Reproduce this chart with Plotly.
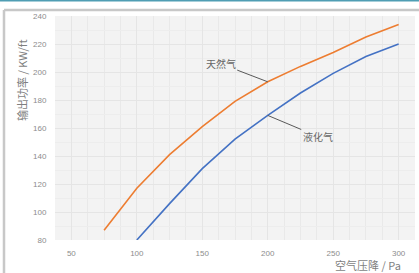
import plotly.graph_objects as go

# Data
pressure = [75, 100, 125, 150, 175, 200, 225, 250, 275, 300]
natural_gas = [87, 117, 141, 161, 179, 193, 204, 214, 225, 234]
pressure_lpg = [100, 125, 150, 175, 200, 225, 250, 275, 300]
lpg = [80, 106, 131, 152, 169, 185, 199, 211, 220]
x_ticks = [50, 100, 150, 200, 250, 300]
y_ticks = [80, 100, 120, 140, 160, 180, 200, 220, 240]

W, H = 419, 273
L, R, T, B = 55, 4, 16, 33

fig = go.Figure()
fig.add_trace(go.Scatter(x=pressure, y=natural_gas, mode="lines", name="天然气",
                         line=dict(color="#ED7D31", width=1.6)))
fig.add_trace(go.Scatter(x=pressure_lpg, y=lpg, mode="lines", name="液化气",
                         line=dict(color="#4472C4", width=1.6)))

tick_font = dict(family="Liberation Sans, Arial", size=8, color="#8c8c8c")
cjk = "Noto Sans CJK SC"

fig.update_layout(
    width=W, height=H,
    margin=dict(l=L, r=R, t=T, b=B),
    paper_bgcolor="white",
    plot_bgcolor="#f3f3f3",
    showlegend=False,
    xaxis=dict(range=[37.5, 312.5], tickvals=x_ticks, showline=False, zeroline=False,
               gridcolor="#e5e5e5", gridwidth=1, tickfont=tick_font,
               ticks="outside", ticklen=5, tickcolor="rgba(0,0,0,0)",
               minor=dict(dtick=12.5, tick0=0, showgrid=True, gridcolor="#e9e9e9", gridwidth=1)),
    yaxis=dict(range=[80, 240], tickvals=y_ticks, showline=False, zeroline=False,
               gridcolor="#e5e5e5", gridwidth=1, tickfont=tick_font,
               ticks="outside", ticklen=6, tickcolor="rgba(0,0,0,0)",
               minor=dict(dtick=10, showgrid=True, gridcolor="#ededed", gridwidth=1)),
    annotations=[
        dict(x=200, y=natural_gas[pressure.index(200)], xref="x", yref="y",
             text="天然气", showarrow=True, arrowhead=0, arrowwidth=1, arrowcolor="#595959",
             ax=-47, ay=-18, font=dict(family=cjk, size=10, color="#666666")),
        dict(x=200, y=lpg[pressure_lpg.index(200)], xref="x", yref="y",
             text="液化气", showarrow=True, arrowhead=0, arrowwidth=1, arrowcolor="#595959",
             ax=50, ay=21, font=dict(family=cjk, size=10, color="#666666")),
        dict(x=(403 - L) / (W - L - R), y=(H - B - 265) / (H - T - B), xref="paper", yref="paper",
             xanchor="right", yanchor="middle", text="空气压降 / Pa", showarrow=False,
             font=dict(family=cjk, size=11, color="#7f7f7f")),
        dict(x=(22 - L) / (W - L - R), y=(H - B - 80) / (H - T - B), xref="paper", yref="paper",
             xanchor="center", yanchor="middle", text="输出功率 / KW/ft", showarrow=False,
             textangle=-90, font=dict(family=cjk, size=11, color="#7f7f7f")),
    ],
    shapes=[
        dict(type="line", xref="paper", yref="paper",
             x0=-L / (W - L - R), x1=1 + R / (W - L - R),
             y0=1 + (T - 0.5) / (H - T - B), y1=1 + (T - 0.5) / (H - T - B),
             line=dict(color="#4f9db3", width=2)),
        dict(type="line", xref="paper", yref="paper",
             x0=-(L - 4) / (W - L - R), x1=1 + R / (W - L - R),
             y0=1 + (T - 10) / (H - T - B), y1=1 + (T - 10) / (H - T - B),
             line=dict(color="#c8c8c8", width=2.5)),
        dict(type="line", xref="paper", yref="paper",
             x0=-(L - 4) / (W - L - R), x1=-(L - 4) / (W - L - R),
             y0=1 + (T - 10) / (H - T - B), y1=-B / (H - T - B),
             line=dict(color="#c8c8c8", width=2.5)),
    ],
)

fig.write_html("out.html", config={"displayModeBar": False},
               post_script="document.body.style.margin='0';document.body.style.overflow='hidden';")
